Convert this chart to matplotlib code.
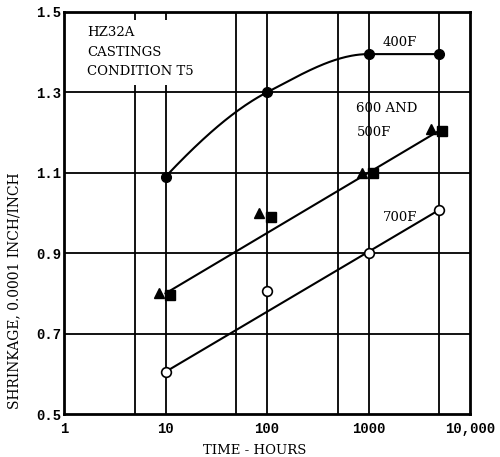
import numpy as np
import matplotlib
matplotlib.use("Agg")
import matplotlib.pyplot as plt
from matplotlib.patches import Rectangle

# ---- data ----
hours = [10, 100, 1000, 5000]
shrink_400F = [1.09, 1.30, 1.395, 1.395]

tri_hours = [8.6, 83, 870, 4150]          # 600F (triangles, drawn slightly left)
shrink_600F = [0.80, 1.00, 1.10, 1.21]
sq_hours = [11, 110, 1100, 5300]          # 500F (squares, drawn slightly right)
shrink_500F = [0.795, 0.99, 1.10, 1.205]

shrink_700F = [0.605, 0.805, 0.90, 1.008]

fit_hours = [10, 5000]
fit_600_500F = [0.80, 1.205]
fit_700F = [0.605, 1.008]

x_ticks = [1, 10, 100, 1000, 10000]
x_ticklabels = ["1", "10", "100", "1000", "10,000"]
y_ticks = [0.5, 0.7, 0.9, 1.1, 1.3, 1.5]
x_grid = [5, 10, 50, 100, 500, 1000, 5000]


def pchip(x, y, xn):
    x = np.asarray(x, float); y = np.asarray(y, float)
    h = np.diff(x); d = np.diff(y) / h
    m = np.zeros_like(y)
    for k in range(1, len(x) - 1):
        if d[k - 1] * d[k] <= 0:
            m[k] = 0.0
        else:
            w1 = 2 * h[k] + h[k - 1]; w2 = h[k] + 2 * h[k - 1]
            m[k] = (w1 + w2) / (w1 / d[k - 1] + w2 / d[k])
    m[0] = ((2 * h[0] + h[1]) * d[0] - h[0] * d[1]) / (h[0] + h[1])
    if np.sign(m[0]) != np.sign(d[0]):
        m[0] = 0
    m[-1] = 0.0
    out = np.empty_like(xn)
    for i, xv in enumerate(xn):
        k = min(np.searchsorted(x, xv, side="right") - 1, len(x) - 2)
        t = (xv - x[k]) / h[k]
        h00 = 2 * t**3 - 3 * t**2 + 1; h10 = t**3 - 2 * t**2 + t
        h01 = -2 * t**3 + 3 * t**2; h11 = t**3 - t**2
        out[i] = h00 * y[k] + h10 * h[k] * m[k] + h01 * y[k + 1] + h11 * h[k] * m[k + 1]
    return out


fig = plt.figure(figsize=(5.0, 4.57), dpi=100)
ax = fig.add_axes([0.128, 0.094, 0.812, 0.880])
ax.set_xscale("log")
ax.set_xlim(1, 10000)
ax.set_ylim(0.5, 1.5)

for gx in x_grid:
    ax.axvline(gx, color="black", lw=1.3, zorder=1)
for gy in y_ticks[1:-1]:
    ax.axhline(gy, color="black", lw=1.3, zorder=1)

# white area behind the title block
ax.add_patch(Rectangle((1, 1.317), 26, 0.163, facecolor="white", edgecolor="none", zorder=1.5))

# 400F smooth curve through points (in log-time)
lx = np.log10(hours)
tt = np.linspace(lx[0], lx[-1], 200)
ax.plot(10 ** tt, pchip(lx, shrink_400F, tt), color="black", lw=1.5, zorder=2)
ax.plot(hours, shrink_400F, "o", color="black", ms=7, zorder=3)

ax.plot(fit_hours, fit_600_500F, color="black", lw=1.5, zorder=2)
ax.plot(tri_hours, shrink_600F, "^", color="black", ms=7.5, zorder=3)
ax.plot(sq_hours, shrink_500F, "s", color="black", ms=6.5, zorder=3)

ax.plot(fit_hours, fit_700F, color="black", lw=1.5, zorder=2)
ax.plot(hours, shrink_700F, "o", mfc="white", mec="black", mew=1.2, ms=7, zorder=3)

serif = "DejaVu Serif"
mono = "Liberation Mono"
tk = dict(fontsize=9.5, family=serif, va="center", ha="left", zorder=4)
ax.text(1.69, 1.448, "HZ32A", **tk)
ax.text(1.69, 1.398, "CASTINGS", **tk)
ax.text(1.69, 1.351, "CONDITION T5", **tk)
ax.text(1390, 1.423, "400F", **tk)
ax.text(753, 1.259, "600 AND", **tk)
ax.text(770, 1.200, "500F", **tk)
ax.text(1390, 0.988, "700F", **tk)

ax.set_xticks(x_ticks)
ax.set_xticklabels(x_ticklabels, fontsize=10, family=mono, fontweight="bold")
ax.minorticks_off()
ax.set_yticks(y_ticks)
ax.set_yticklabels([f"{v:.1f}" for v in y_ticks], fontsize=10, family=mono, fontweight="bold")
ax.tick_params(length=0, pad=6)
ax.tick_params(axis="y", pad=2)

ax.set_xlabel("TIME - HOURS", fontsize=9.5, family=serif, va="center", ha="center")
ax.xaxis.set_label_coords(0.47, -0.09)
ax.set_ylabel("SHRINKAGE, 0.0001 INCH/INCH", fontsize=10, family=serif, va="center", ha="center")
ax.yaxis.set_label_coords(-0.123, 0.306)

for s in ax.spines.values():
    s.set_linewidth(2)
    s.set_color("black")

fig.savefig("out.png", dpi=100)
